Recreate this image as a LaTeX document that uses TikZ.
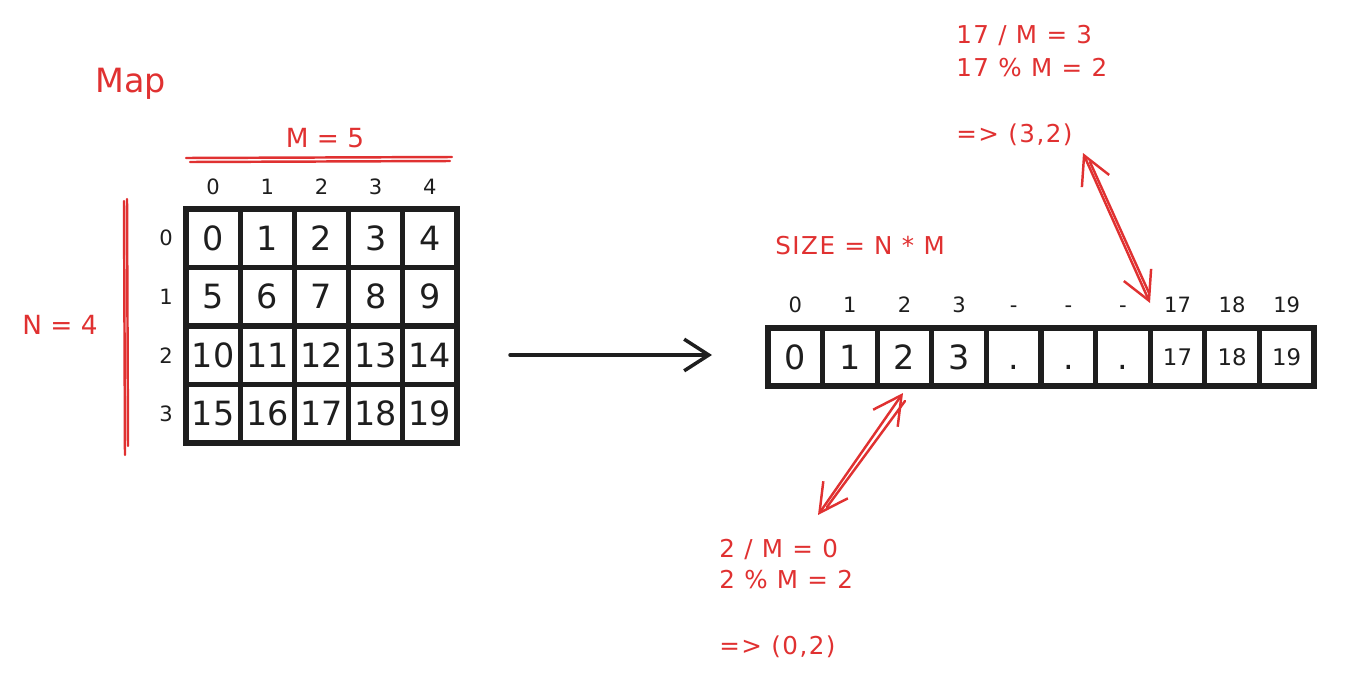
\documentclass[tikz,border=0pt]{standalone}
\usepackage{fontspec}
\setmainfont{DejaVu Sans}
\usetikzlibrary{arrows.meta,calc}
\definecolor{exred}{HTML}{E03131}
\definecolor{exblack}{HTML}{1E1E1E}
\begin{document}
\begin{tikzpicture}[x=0.02cm,y=-0.02cm,
  cell/.style={draw=exblack, line width=2.9pt, minimum width=1.084cm, minimum height=1.17cm,
    inner sep=0pt, text=exblack, font=\fontsize{19}{21}\selectfont, text height=13.8pt, text depth=0pt},
  acell/.style={cell, minimum width=1.092cm, minimum height=1.16cm},
  smallcell/.style={font=\fontsize{13}{15}\selectfont, text height=9.5pt},
  idx/.style={text=exblack, inner sep=0pt, font=\fontsize{12}{14}\selectfont},
  redlbl/.style={text=exred, inner sep=0pt, anchor=base west,
    font=\fontsize{14}{16}\selectfont\addfontfeature{LetterSpace=6}},
  redbig/.style={text=exred, inner sep=0pt, anchor=base, font=\fontsize{15}{17}\selectfont},
  redline/.style={draw=exred, line width=1.4pt, line cap=round},
  redarrow/.style={redline, {Straight Barb[length=16pt,width=17pt]}-{Straight Barb[length=16pt,width=17pt]}},
  bigarrow/.style={draw=exblack, line width=2pt, line cap=round, -{Straight Barb[length=14pt,width=18pt]}}
]
\useasboundingbox (0,0) rectangle (1362,690);

% title
\node[text=exred, inner sep=0pt, anchor=base west, font=\fontsize{19}{21}\selectfont] (title) at (95,92) {Map};

% M = 5 label and line
\node[redbig] (mlbl) at (325,147) {M = 5};
\coordinate (mA) at (186,158); \coordinate (mB) at (452,157);
\coordinate (mC) at (190,162); \coordinate (mD) at (450,161);
\draw[redline] (mA) -- (mB);
\draw[redline] (mC) -- (mD);

% N = 4 label and line
\node[redbig] (nlbl) at (60,334) {N = 4};
\coordinate (nA) at (124,201); \coordinate (nB) at (125,455);
\coordinate (nC) at (127,199); \coordinate (nD) at (128,446);
\draw[redline] (nA) -- (nB);
\draw[redline] (nC) -- (nD);

% grid
\foreach \r in {0,...,3}{
  \foreach \c in {0,...,4}{
    \pgfmathtruncatemacro\n{5*\r+\c}
    \node[cell] (g-\r-\c) at ({213.1+54.2*\c},{238.25+58.5*\r}) {\n};
  }
}
\foreach \c in {0,...,4}{
  \node[idx] (col-\c) at ({213.1+54.2*\c},187) {\c};
}
\foreach \r in {0,...,3}{
  \node[idx] (row-\r) at (166,{238.25+58.5*\r}) {\r};
}

% main arrow
\coordinate (arrS) at (510,355);
\coordinate (arrE) at (712,355);
\draw[bigarrow] (arrS) -- (arrE);

% SIZE label
\node[redlbl] (size) at (775,254) {SIZE = N * M};

% array
\foreach \i/\t/\s in {0/0/,1/1/,2/2/,3/3/,4/./,5/./,6/./,7/17/smallcell,8/18/smallcell,9/19/smallcell}{
  \node[acell,\s] (a-\i) at ({795.3+54.6*\i},357) {\t};
}
\foreach \i/\t in {0/0,1/1,2/2,3/3,7/17,8/18,9/19}{
  \node[idx] (ai-\i) at ({795.3+54.6*\i},305) {\t};
}
\foreach \i in {4,5,6}{
  \node[idx] (ai-\i) at ({795.3+54.6*\i},309) {-};
}

% top calculation
\node[redlbl] (t1) at (956,43) {17 / M = 3};
\node[redlbl] (t2) at (956,76) {17 \% M = 2};
\node[redlbl] (t3) at (956,142) {=> (3,2)};

% bottom calculation
\node[redlbl] (b1) at (719,557) {2 / M = 0};
\node[redlbl] (b2) at (719,588) {2 \% M = 2};
\node[redlbl] (b3) at (719,654) {=> (0,2)};

% red arrows
\coordinate (bS) at (903,393);
\coordinate (bE) at (818,515);
\draw[redarrow] (bS) -- (bE);
\draw[redline] ($(bS)+(2,8)$) -- ($(bE)+(9,-8)$);

\coordinate (tS) at (1150,303);
\coordinate (tE) at (1083,153);
\draw[redarrow] (tS) -- (tE);
\draw[redline] ($(tS)+(-1,-10)$) -- ($(tE)+(7,9)$);
\end{tikzpicture}
\end{document}
